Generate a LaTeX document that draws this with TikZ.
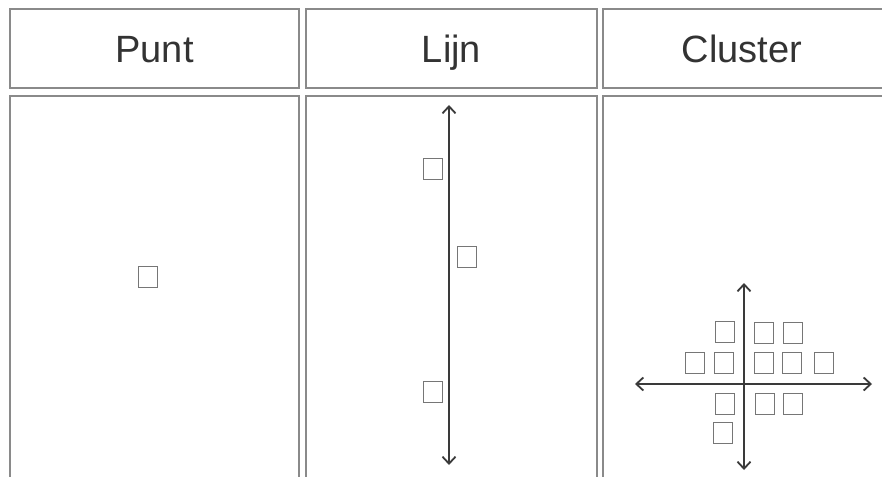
\documentclass[tikz,border=0pt]{standalone}
\usepackage{fontspec}
\setmainfont{Liberation Sans}
\usetikzlibrary{arrows.meta}
\definecolor{boxline}{HTML}{8A8A8A}
\definecolor{sqline}{HTML}{767676}
\definecolor{axisline}{HTML}{3A3A3A}
\definecolor{txt}{HTML}{333333}
\tikzset{
  panel/.style={draw=boxline, line width=1.6pt},
  hdr/.style={font=\fontsize{38}{44}\selectfont, text=txt, anchor=base, inner sep=0pt},
  sq/.style={draw=sqline, line width=1.3pt, minimum width=19pt, minimum height=21pt, inner sep=0pt, anchor=north west},
  axis/.style={draw=axisline, line width=1.8pt, {Straight Barb[length=7pt,width=13pt,line width=1.8pt]}-{Straight Barb[length=7pt,width=13pt,line width=1.8pt]}}
}
\begin{document}
\begin{tikzpicture}[x=1pt,y=-1pt]
\useasboundingbox (0,0) rectangle (882,476);
\clip (0,0) rectangle (882,476);
% header panels
\draw[panel] (10,9) rectangle (299,88);
\draw[panel] (306,9) rectangle (597,88);
\draw[panel] (603,9) rectangle (892,88);
\node[hdr] (h1) at (154.5,63) {Punt};
\node[hdr] (h2) at (451.5,63) {Lijn};
\node[hdr] (h3) at (742,63) {Cluster};
% lower panels
\draw[panel] (10,96) rectangle (299,490);
\draw[panel] (306,96) rectangle (597,490);
\draw[panel] (603,96) rectangle (892,490);
% Punt
\node[sq] (p1) at (138,266) {};
% Lijn
\coordinate (lt) at (449,105);
\coordinate (lb) at (449,465);
\draw[axis] (lb) -- (lt);
\node[sq] (l1) at (423,158) {};
\node[sq] (l2) at (457,246) {};
\node[sq] (l3) at (423,381) {};
% Cluster
\coordinate (ct) at (744,283);
\coordinate (cb) at (744,470);
\coordinate (cl) at (635,384);
\coordinate (cr) at (872,384);
\draw[axis] (cb) -- (ct);
\draw[axis] (cl) -- (cr);
\node[sq] (c1) at (715,321) {};
\node[sq] (c2) at (754,322) {};
\node[sq] (c3) at (783,322) {};
\node[sq] (c4) at (685,352) {};
\node[sq] (c5) at (714,352) {};
\node[sq] (c6) at (754,352) {};
\node[sq] (c7) at (782,352) {};
\node[sq] (c8) at (814,352) {};
\node[sq] (c9) at (715,393) {};
\node[sq] (c10) at (755,393) {};
\node[sq] (c11) at (783,393) {};
\node[sq] (c12) at (713,422) {};
\end{tikzpicture}
\end{document}
